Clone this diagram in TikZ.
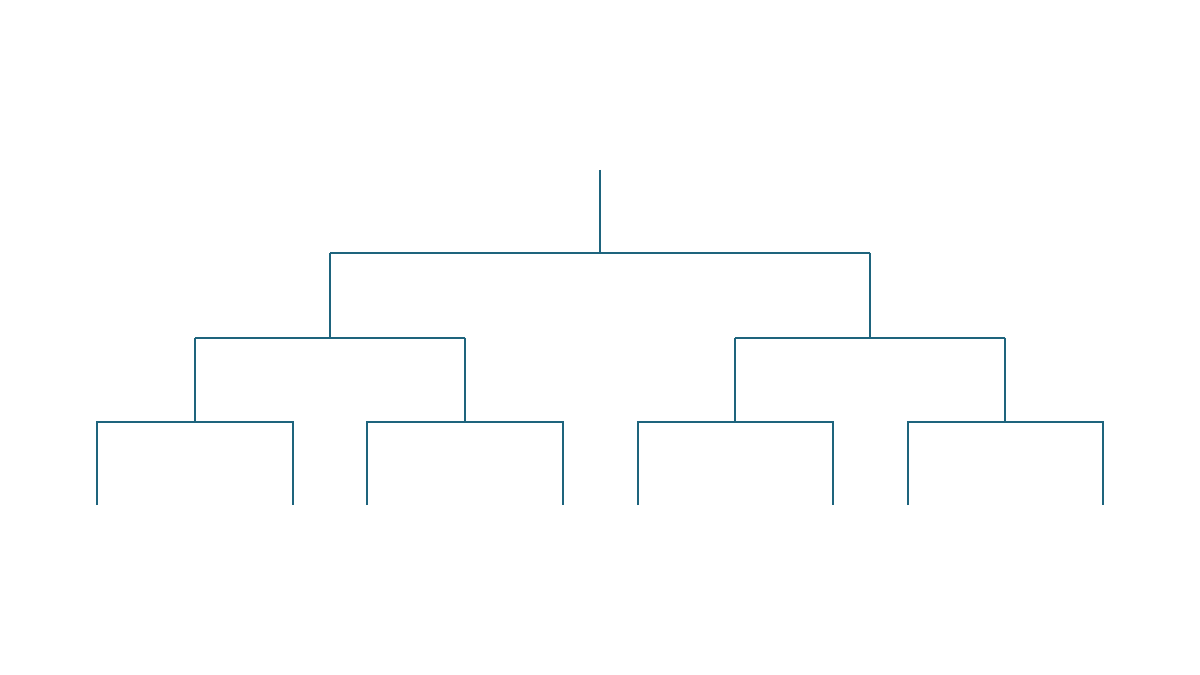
\documentclass[tikz,border=0pt]{standalone}
\definecolor{treeblue}{RGB}{30,100,125}
\begin{document}
\begin{tikzpicture}[x=0.02cm, y=-0.02cm, branch/.style={draw=treeblue, line width=1.1pt}]
            \useasboundingbox (0, 0) rectangle (1200, 675);

            \coordinate (root) at (600, 170);
            \coordinate (top) at (600, 253);

            \coordinate (l) at (330, 253);
            \coordinate (r) at (870, 253);

            \coordinate (ll) at (195, 338);
            \coordinate (lr) at (465, 338);
            \coordinate (rl) at (735, 338);
            \coordinate (rr) at (1005, 338);

            \draw[branch] (root) -- (top);

            \draw[branch] (l) |- (ll) -- (lr);

            \draw[branch] (r) |- (rl) -- (rr);

            \draw[branch] (l) -- (r);

            \foreach \mid/\a/\b in {ll/97/293, lr/367/563, rl/638/833, rr/908/1103} {
                \draw[branch] (\a, 505) |- (\mid |- 0, 422) -| (\b, 505);
                \draw[branch] (\mid) -- (\mid |- 0, 422);
            }
        \end{tikzpicture}
\end{document}
